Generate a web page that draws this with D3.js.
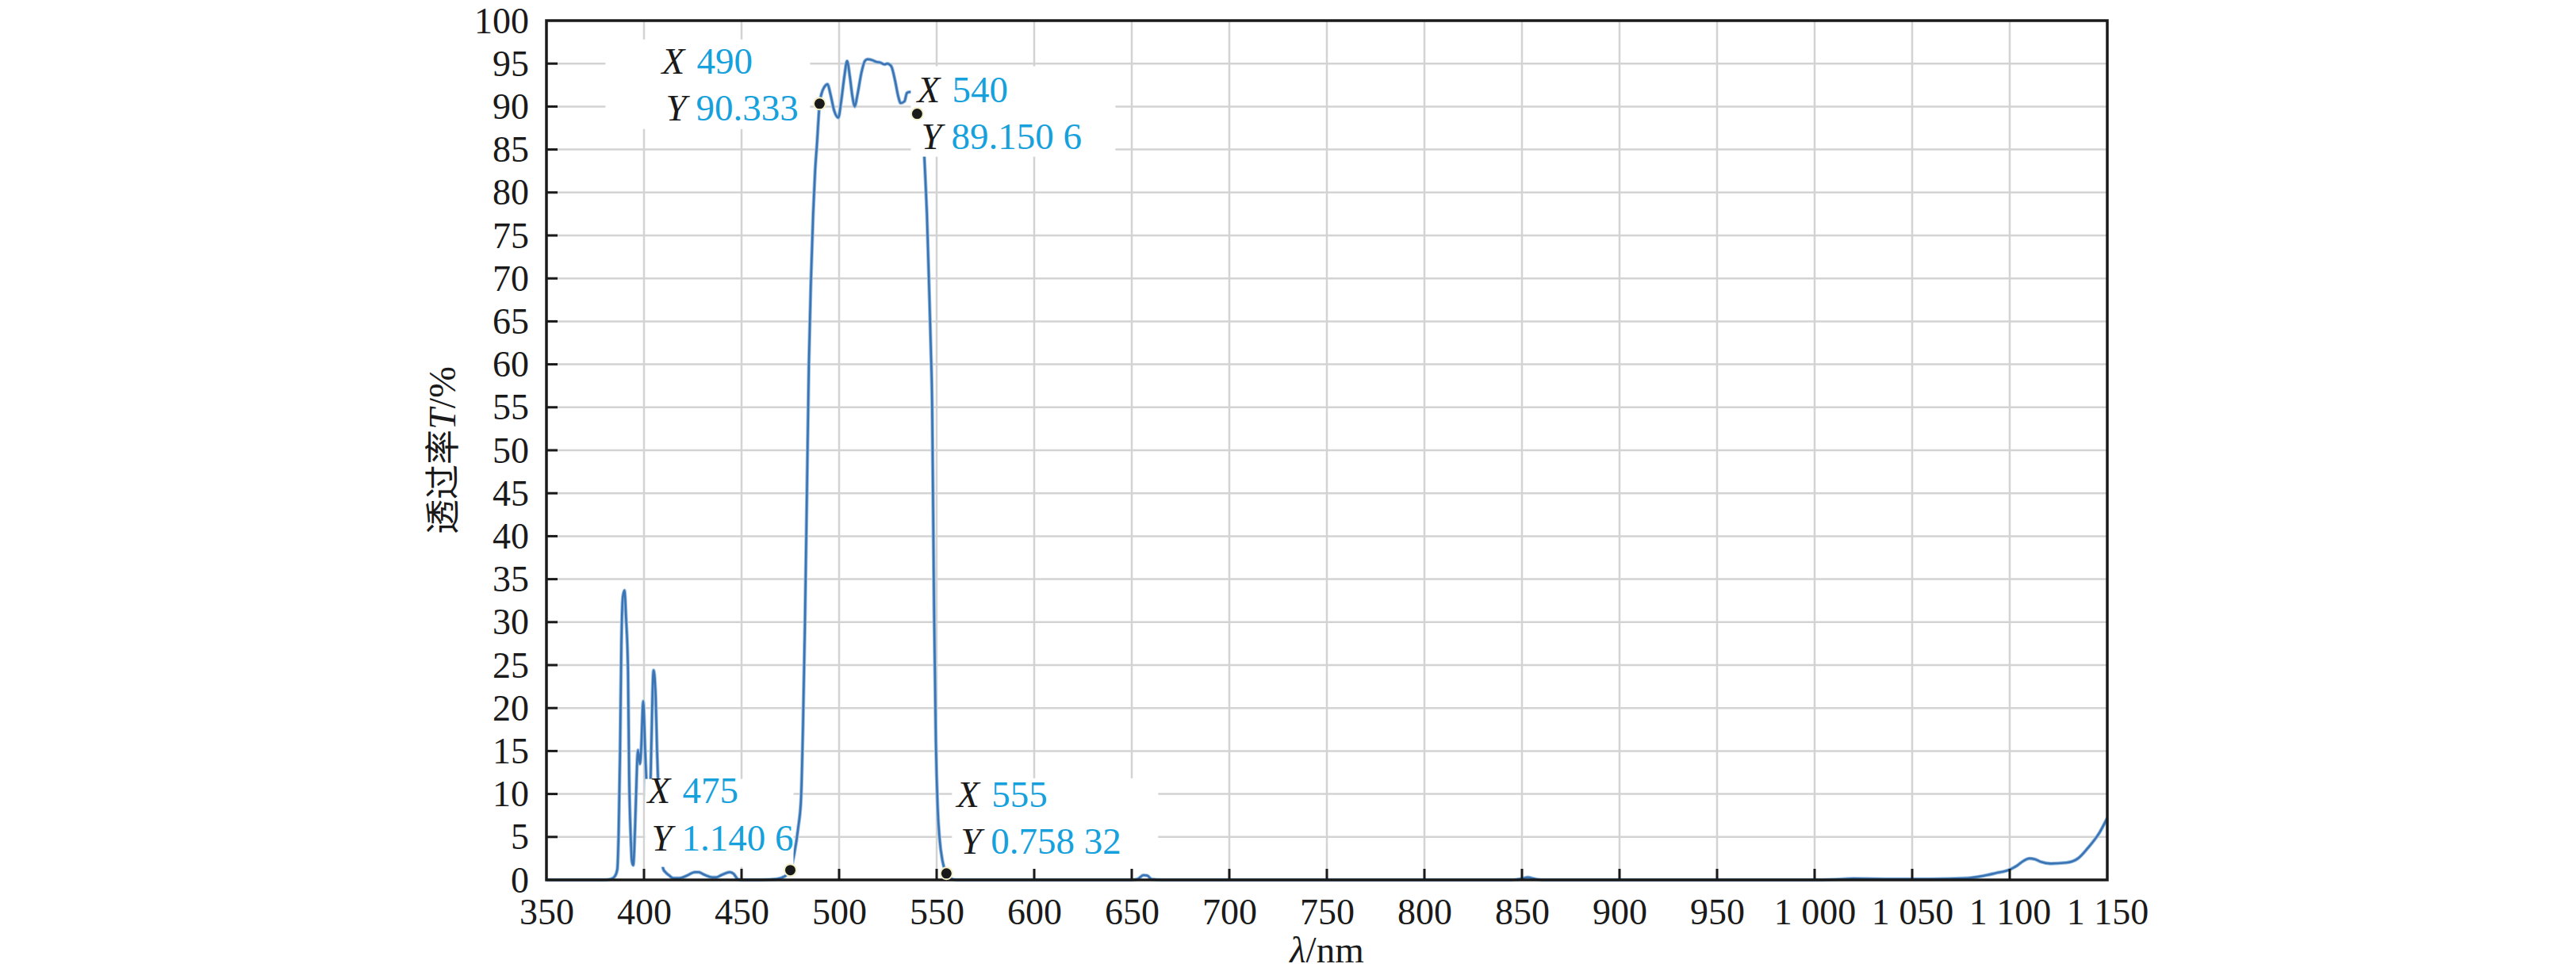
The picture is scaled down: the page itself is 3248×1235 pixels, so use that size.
<!DOCTYPE html>
<html><head><meta charset="utf-8">
<script src="https://cdn.jsdelivr.net/npm/d3@7"></script>
<style>body{margin:0;background:#fff}</style>
</head><body>
<svg id="c" width="3248" height="1235" xmlns="http://www.w3.org/2000/svg"></svg>
<script>
// ---- data ----
const wavelength = [350,380,383,385,386.3,387,387.7,388.4,389.2,390,390.8,391.8,392.4,393.2,393.8,394.5,395.1,395.8,396.9,397.9,398.5,399.6,400.6,401.4,402,402.6,403.1,403.7,404.9,406,406.7,407.5,408.3,409,410,411,413,415,418,422,426,428,431,435,437,440,444,446,448,450,460,468,472,475,477,479,480.5,481.5,482.5,483.5,484.5,485.6,486.7,487.7,488.7,490,491,492.5,494.1,495.5,497.5,499.6,501,502.7,504.1,505.5,506.8,508,509.5,511.5,513.2,514.5,517,519,521.3,523.3,524.7,526.7,528.7,530.3,531.5,533.5,534.8,536.5,538.2,539.2,540,541,542,543,544.3,545,546,547,547.7,548.2,548.7,549.6,550.5,551.5,553,555,557,560,650,653,656,658,660,665,845,850,853,856,860,1000,1010,1020,1040,1060,1078,1086,1093,1100,1104,1107,1110,1113,1116,1121,1129,1135,1140,1146,1150];
const transmittance = [0,0,0.1,0.4,1.2,5.5,14.5,27.4,33,33.7,30.5,24.3,12,5,2.15,1.7,4,8.9,15.1,13.5,15,20.8,15,10.5,7.4,6.3,9,15,24.4,21.2,15,9.5,5,2.5,1.2,0.9,0.5,0.2,0.2,0.5,0.9,0.9,0.6,0.3,0.3,0.6,0.9,0.7,0.1,0,0,0.1,0.4,1.1406,3,6,9.5,18,30,45,60,70,77.5,82.5,85.8,90.333,91.5,92.3,92.6,91.5,89.5,88.7,90.5,93.5,95.3,93.5,91.2,90,91.5,94,95.3,95.5,95.4,95.2,95.1,94.9,95,94.7,93,91.2,90.4,90.6,91.6,91.7,91.6,91,89.1506,88.6,88,86.7,81.2,77.5,70,62,55,43,31,16,8.5,4.8,2.2,0.75832,0.2,0,0,0.1,0.55,0.5,0.1,0,0,0.15,0.3,0.15,0,0,0.05,0.15,0.1,0.1,0.2,0.45,0.8,1.2,1.7,2.2,2.5,2.4,2.1,1.9,2.0,2.5,3.7,5.5,7.2];
const xTickValues = [350,400,450,500,550,600,650,700,750,800,850,900,950,1000,1050,1100,1150];
const yTickValues = [0,5,10,15,20,25,30,35,40,45,50,55,60,65,70,75,80,85,90,95,100];
const tipX = [490, 540, 475, 555];
const tipY = [90.333, 89.1506, 1.1406, 0.75832];
const tipXText = ["490", "540", "475", "555"];
const tipYText = ["90.333", "89.150 6", "1.140 6", "0.758 32"];
const xAxisTitle = ["λ", "/nm"];
const yAxisTitle = ["透过率", "T", "/%"];

// ---- layout ----
const W = 3248, H = 1235;
const M = {left: 689, right: W - 2657, top: 26, bottom: H - 1110};
const tipLayout = [
  {tx: -199, r1: -38, r2: 21, bx: -270, by: -81, bw: 258, bh: 113},
  {tx: 0,    r1: -15, r2: 44, bx: -8,   by: -60, bw: 258, bh: 114},
  {tx: -180, r1: -85, r2: -25, bx: -183, by: -115, bw: 187, bh: 111},
  {tx: 13,   r1: -84, r2: -25, bx: 7,    by: -120, bw: 260, bh: 115}
];

const svg = d3.select("#c");
const x = d3.scaleLinear().domain([350, 1150]).range([M.left, W - M.right]);
const y = d3.scaleLinear().domain([0, 100]).range([H - M.bottom, M.top]);
const serif = "'Liberation Serif','Times New Roman',serif";
const blue = "#17a1dc";
const gridColor = "#d3d3d3";

// grid
const grid = svg.append("g");
grid.selectAll("line.v").data(xTickValues.slice(1, -1)).enter().append("line")
  .attr("x1", d => x(d)).attr("x2", d => x(d)).attr("y1", y(100)).attr("y2", y(0))
  .attr("stroke", gridColor).attr("stroke-width", 2.5);
grid.selectAll("line.h").data(yTickValues.slice(1, -1)).enter().append("line")
  .attr("y1", d => y(d)).attr("y2", d => y(d)).attr("x1", x(350)).attr("x2", x(1150))
  .attr("stroke", gridColor).attr("stroke-width", 2.5);

// curve (light halo + core)
const pts = wavelength.map((w, i) => [w, transmittance[i]]);
const line = d3.line().x(d => x(d[0])).y(d => y(d[1])).curve(d3.curveMonotoneX);
svg.append("path").datum(pts).attr("d", line).attr("fill", "none")
  .attr("stroke", "#9cc0e0").attr("stroke-width", 4.5).attr("stroke-linejoin", "round");
svg.append("path").datum(pts).attr("d", line).attr("fill", "none")
  .attr("stroke", "#3a74b4").attr("stroke-width", 2.6).attr("stroke-linejoin", "round");

// tip boxes (white backgrounds)
const tips = tipX.map((t, i) => ({px: x(t), py: y(tipY[i]), lx: tipXText[i], ly: tipYText[i], L: tipLayout[i]}));
svg.selectAll("rect.tipbox").data(tips).enter().append("rect")
  .attr("x", d => d.px + d.L.bx).attr("y", d => d.py + d.L.by)
  .attr("width", d => d.L.bw).attr("height", d => d.L.bh).attr("fill", "#fff");

// axes
const xAxis = d3.axisBottom(x).tickValues(xTickValues).tickSize(0).tickPadding(0)
  .tickFormat(d => d >= 1000 ? "1 " + String(d).slice(1) : String(d));
const gx = svg.append("g").attr("transform", `translate(0,${y(0)})`).call(xAxis);
gx.select(".domain").remove();
gx.selectAll("text").attr("font-family", serif).attr("font-size", 46).attr("fill", "#1a1a1a")
  .attr("dy", null).attr("y", 56);
const yAxis = d3.axisLeft(y).tickValues(yTickValues).tickSize(0).tickPadding(0);
const gy = svg.append("g").attr("transform", `translate(${x(350)},0)`).call(yAxis);
gy.select(".domain").remove();
gy.selectAll("text").attr("font-family", serif).attr("font-size", 46).attr("fill", "#1a1a1a")
  .attr("dy", null).attr("x", -22).attr("y", 15);

// inward ticks
svg.append("g").selectAll("line").data(xTickValues.slice(1, -1)).enter().append("line")
  .attr("x1", d => x(d)).attr("x2", d => x(d)).attr("y1", y(0)).attr("y2", y(0) - 14)
  .attr("stroke", "#1a1a1a").attr("stroke-width", 3);
svg.append("g").selectAll("line").data(yTickValues.slice(1, -1)).enter().append("line")
  .attr("y1", d => y(d)).attr("y2", d => y(d)).attr("x1", x(350)).attr("x2", x(350) + 14)
  .attr("stroke", "#1a1a1a").attr("stroke-width", 3);

// frame
svg.append("rect").attr("x", x(350)).attr("y", y(100)).attr("width", x(1150) - x(350))
  .attr("height", y(0) - y(100)).attr("fill", "none").attr("stroke", "#1a1a1a").attr("stroke-width", 3.5);

// tip texts
const tg = svg.selectAll("g.tip").data(tips).enter().append("g");
tg.append("text").attr("x", d => d.px + d.L.tx).attr("y", d => d.py + d.L.r1)
  .attr("font-family", serif).attr("font-size", 47).attr("font-style", "italic").attr("fill", "#1a1a1a").text("X");
tg.append("text").attr("x", d => d.px + d.L.tx + 44).attr("y", d => d.py + d.L.r1)
  .attr("font-family", serif).attr("font-size", 47).attr("fill", blue).text(d => d.lx);
tg.append("text").attr("x", d => d.px + d.L.tx + 5).attr("y", d => d.py + d.L.r2)
  .attr("font-family", serif).attr("font-size", 47).attr("font-style", "italic").attr("fill", "#1a1a1a").text("Y");
tg.append("text").attr("x", d => d.px + d.L.tx + 43).attr("y", d => d.py + d.L.r2)
  .attr("font-family", serif).attr("font-size", 47).attr("fill", blue).text(d => d.ly);
// markers
svg.selectAll("circle.m").data(tips).enter().append("circle")
  .attr("cx", d => d.px).attr("cy", d => d.py).attr("r", 7.5)
  .attr("fill", "#1a1a1a").attr("stroke", "#f3efc8").attr("stroke-width", 2);

// axis titles
const xt = svg.append("text").attr("x", (x(350) + x(1150)) / 2).attr("y", 1214)
  .attr("text-anchor", "middle").attr("font-family", serif).attr("font-size", 47).attr("fill", "#1a1a1a");
xt.append("tspan").attr("font-style", "italic").text(xAxisTitle[0]);
xt.append("tspan").text(xAxisTitle[1]);

const yt = svg.append("text").attr("transform", `translate(574,${(y(0) + y(100)) / 2}) rotate(-90)`)
  .attr("text-anchor", "middle").attr("font-size", 48).attr("fill", "#1a1a1a");
yt.append("tspan").attr("font-family", "'Noto Sans CJK SC',sans-serif").attr("font-size", 44).text(yAxisTitle[0]);
yt.append("tspan").attr("font-family", serif).attr("font-style", "italic").text(yAxisTitle[1]);
yt.append("tspan").attr("font-family", serif).text(yAxisTitle[2]);
</script>
</body></html>
